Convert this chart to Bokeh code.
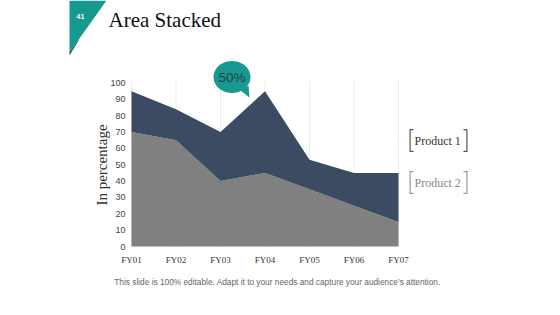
import math

from bokeh.plotting import figure
from bokeh.models import ColumnDataSource, FixedTicker, Label, PolyAnnotation, Range1d
from bokeh.embed import file_html
from bokeh.resources import INLINE

# ---- data -------------------------------------------------------------
years = ["FY01", "FY02", "FY03", "FY04", "FY05", "FY06", "FY07"]
product_2 = [70, 65, 40, 45, 35, 25, 15]
product_1 = [25, 19, 30, 50, 18, 20, 30]
y_ticks = [0, 10, 20, 30, 40, 50, 60, 70, 80, 90, 100]
series_names = ["Product 1", "Product 2"]
callout_year = "FY04"

# ---- styles -----------------------------------------------------------
NAVY = "#3a4b62"
GREY = "#808080"
TEAL = "#17998f"
TEAL_DARK = "#1c5e5a"
SERIF = "Liberation Serif"
SANS = "Liberation Sans"

# ---- page geometry (pixels) --------------------------------------------
W, H = 560, 315
FRAME_L, FRAME_B = 55, 290          # frame spans the slide; axes sit at fixed spots
PLOT_X0, PLOT_X1 = 131, 398         # pixel columns of the first / last year
PLOT_Y0, PLOT_Y100 = 246, 82.5      # pixel rows of 0 % and 100 %

n = len(years)
kx = (n - 1) / (PLOT_X1 - PLOT_X0)
ky = 100 / (PLOT_Y0 - PLOT_Y100)
x_range = Range1d(-(PLOT_X0 - FRAME_L) * kx, (W - PLOT_X0) * kx)
y_range = Range1d(-(FRAME_B - PLOT_Y0) * ky, PLOT_Y0 * ky)

xs = list(range(n))
src = ColumnDataSource(dict(x=xs, p2=product_2, p1=product_1))

p = figure(width=W, height=H, output_backend="svg", toolbar_location=None, title=None,
           x_range=x_range, y_range=y_range,
           min_border_left=FRAME_L, min_border_right=0,
           min_border_top=0, min_border_bottom=H - FRAME_B)
p.outline_line_color = None
p.background_fill_color = "white"
p.border_fill_color = "white"
p.grid.visible = False

# faint vertical guide at each year, from 0 to the top of the scale
p.segment(x0=xs, y0=[0] * n, x1=xs, y1=[101] * n, line_color="#ebebeb", line_width=1)

# stacked areas: Product 2 at the bottom, Product 1 on top
p.varea_stack(["p2", "p1"], x="x", source=src, color=[GREY, NAVY])

# x axis along 0 %
p.xaxis.fixed_location = 0
p.xaxis.bounds = (0, n - 1)
p.xaxis.ticker = FixedTicker(ticks=xs)
p.xaxis.major_label_overrides = {i: y for i, y in enumerate(years)}
p.xaxis.axis_line_color = None
p.xaxis.major_tick_line_color = None
p.xaxis.minor_tick_line_color = None
p.xaxis.major_tick_out = 0
p.xaxis.major_label_standoff = 8
p.xaxis.major_label_text_font = SERIF
p.xaxis.major_label_text_font_size = "9px"
p.xaxis.major_label_text_color = "#333333"

# y axis along the first year
p.yaxis.fixed_location = 0
p.yaxis.bounds = (0, 100)
p.yaxis.ticker = FixedTicker(ticks=y_ticks)
p.yaxis.axis_line_color = None
p.yaxis.major_tick_line_color = None
p.yaxis.minor_tick_line_color = None
p.yaxis.major_tick_out = 0
p.yaxis.major_label_standoff = 6
p.yaxis.major_label_text_font = SANS
p.yaxis.major_label_text_font_size = "9px"
p.yaxis.major_label_text_color = "#444444"
p.yaxis.axis_label = "In percentage"
p.yaxis.axis_label_text_font = SERIF
p.yaxis.axis_label_text_font_size = "15px"
p.yaxis.axis_label_text_font_style = "normal"
p.yaxis.axis_label_text_color = "#333333"
p.yaxis.axis_label_standoff = -3


# ---- slide decorations ------------------------------------------------
# screen units are measured from the frame's lower-left corner, y upwards;
# these helpers take page pixels (origin top-left) instead
def sx(px):
    return px - FRAME_L


def sy(py):
    return FRAME_B - py


def shape(px_list, py_list, color):
    p.add_layout(PolyAnnotation(xs=[sx(v) for v in px_list], ys=[sy(v) for v in py_list],
                                xs_units="screen", ys_units="screen",
                                fill_color=color, fill_alpha=1, line_color=None))


def text(px, py, s, **kw):
    p.add_layout(Label(x=sx(px), y=sy(py), x_units="screen", y_units="screen",
                       text=s, text_baseline="middle", **kw))


# corner tab with slide number, and the slide title
shape([69, 106, 69], [0, 0, 52], TEAL)
shape([79, 69, 69, 77], [38, 52, 55, 42], TEAL_DARK)
text(80, 16, "41", text_font=SANS, text_font_size="7px", text_font_style="bold",
     text_color="white", text_align="center")
text(108, 19, "Area Stacked", text_font=SERIF, text_font_size="21px", text_color="#111111")

# callout bubble with the value of Product 1 in FY04
cx, cy, rx, ry = 231.5, 76.5, 18.5, 16
ang = [2 * math.pi * k / 48 for k in range(48)]
shape([cx + rx * math.cos(a) for a in ang], [cy + ry * math.sin(a) for a in ang], TEAL)
shape([240, 248, 249], [90, 85, 97], TEAL)
callout_value = product_1[years.index(callout_year)]
text(cx, cy, f"{callout_value}%", text_font=SANS, text_font_size="13.5px",
     text_color="#1d4442", text_align="center")


# bracketed legend entries
def bracket(x0, y0, y1, direction, color):
    t, w = 1.2, 4
    x1 = x0 + direction * w
    xi = x0 + direction * t
    shape([x0, x1, x1, xi, xi, x1, x1, x0],
          [y0, y0, y0 + t, y0 + t, y1 - t, y1 - t, y1, y1], color)


legend_rows = [(series_names[0], 140, "#333333", "#555555"),
               (series_names[1], 182, "#888888", "#999999")]
for name, yc, tcol, bcol in legend_rows:
    bracket(409, yc - 11.5, yc + 11.5, 1, bcol)
    bracket(467, yc - 11.5, yc + 11.5, -1, bcol)
    text(414, yc, name, text_font=SERIF, text_font_size="12px", text_color=tcol)

text(277, 281,
     "This slide is 100% editable. Adapt it to your needs and capture your audience\u2019s attention.",
     text_font=SANS, text_font_size="8.3px", text_color="#666666", text_align="center")

open("out.html", "w").write(file_html(p, INLINE))
